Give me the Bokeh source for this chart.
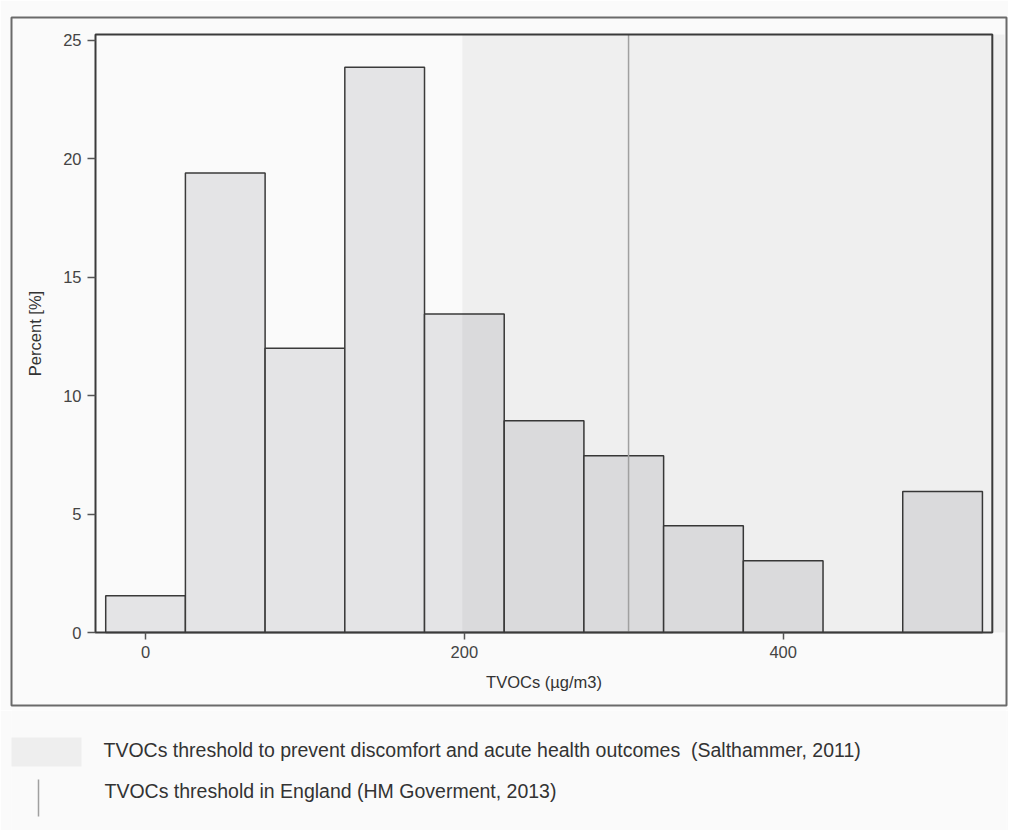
from bokeh.plotting import figure
from bokeh.models import Range1d, FixedTicker
from bokeh.layouts import column
from bokeh.core.properties import value
from bokeh.embed import file_html
from bokeh.resources import INLINE

# ---------------- data ----------------
bin_centers = [0, 50, 100, 150, 200, 250, 300, 350, 400, 450, 500]
percent = [1.55, 19.4, 12.0, 23.87, 13.45, 8.94, 7.47, 4.51, 3.03, 0.0, 5.96]
bin_width = 50

x_ticks = [0, 200, 400]
y_ticks = [0, 5, 10, 15, 20, 25]

shade_start = 198.7        # Salthammer (2011) threshold region start
line_x = 303.0             # HM Government (2013) threshold line
x_label = "TVOCs (µg/m3)"
y_label = "Percent [%]"
legend_texts = [
    "TVOCs threshold to prevent discomfort and acute health outcomes \u00a0(Salthammer, 2011)",
    "TVOCs threshold in England (HM Goverment, 2013)",
]

# ---------------- layout constants ----------------
X_VIEW = (-84.1, 540.1)     # outer box extent in data units
Y_VIEW = (-3.08, 25.97)
BOX_X = (-31.4, 531.2)      # inner plot box
BOX_Y = (0.0, 25.25)
SHADE_END = 538.9

FONT = "Liberation Sans"
BG = "#fafafa"

p = figure(width=1008, height=710, output_backend="svg", toolbar_location=None,
           x_range=Range1d(*X_VIEW), y_range=Range1d(*Y_VIEW),
           min_border_left=11, min_border_right=2, min_border_top=17, min_border_bottom=5)
p.background_fill_color = BG
p.border_fill_color = BG
p.outline_line_color = "#6a6a6a"
p.outline_line_width = 2
p.grid.visible = False

lefts = [c - bin_width / 2 for c in bin_centers]
rights = [c + bin_width / 2 for c in bin_centers]
p.quad(left=lefts, right=rights, bottom=0, top=percent,
       fill_color="#e4e4e6", line_color="#3a3a3a", line_width=1.5)

# shaded threshold region (drawn over bars, translucent)
p.quad(left=[shade_start], right=[SHADE_END], bottom=[BOX_Y[0]], top=[BOX_Y[1]],
       fill_color="#000000", fill_alpha=0.045, line_color=None)

# threshold line
p.segment(x0=[line_x], y0=[BOX_Y[0]], x1=[line_x], y1=[BOX_Y[1]],
          line_color="#a0a0a0", line_width=1.5)

# inner plot box
p.quad(left=[BOX_X[0]], right=[BOX_X[1]], bottom=[BOX_Y[0]], top=[BOX_Y[1]],
       fill_color=None, line_color="#3a3a3a", line_width=2)

for ax in (p.xaxis[0], p.yaxis[0]):
    ax.axis_line_color = None
    ax.major_tick_in = 0
    ax.minor_tick_line_color = None
    ax.major_tick_line_color = "#555555"
    ax.major_tick_line_width = 1.5
    ax.major_label_text_font = FONT
    ax.major_label_text_font_size = "16.5px"
    ax.major_label_text_color = "#444444"
    ax.axis_label_text_font = FONT
    ax.axis_label_text_font_size = "16.5px"
    ax.axis_label_text_font_style = "normal"
    ax.axis_label_text_color = "#333333"

xa = p.xaxis[0]
xa.fixed_location = 0
xa.bounds = BOX_X
xa.ticker = FixedTicker(ticks=x_ticks)
xa.major_tick_out = 7
xa.major_label_standoff = 6
xa.axis_label = x_label
xa.axis_label_standoff = 12

ya = p.yaxis[0]
ya.fixed_location = BOX_X[0]
ya.bounds = BOX_Y
ya.ticker = FixedTicker(ticks=y_ticks)
ya.major_tick_out = 8
ya.major_label_standoff = 6
ya.axis_label = y_label
ya.axis_label_standoff = 16

# ---------------- legend (separate strip, page-pixel coordinates) ----------------
lg = figure(width=1008, height=120, output_backend="svg", toolbar_location=None,
            x_range=Range1d(11, 1006), y_range=Range1d(120, 0),
            min_border_left=11, min_border_right=2, min_border_top=0, min_border_bottom=0)
lg.background_fill_color = BG
lg.border_fill_color = BG
lg.outline_line_color = None
lg.axis.visible = False
lg.grid.visible = False

lg.quad(left=[10], right=[81], top=[27], bottom=[56],
        fill_color="#eeeeee", line_color=None)
lg.segment(x0=[38], y0=[69], x1=[38], y1=[106], line_color="#a0a0a0", line_width=1.5)
lg.text(x=[103, 104], y=[39, 80], text=legend_texts,
        text_font=value(FONT), text_font_size="19.5px", text_color="#333333",
        text_baseline="alphabetic", text_align="left")

layout = column(p, lg, spacing=0)
open("out.html", "w").write(file_html(layout, INLINE))
